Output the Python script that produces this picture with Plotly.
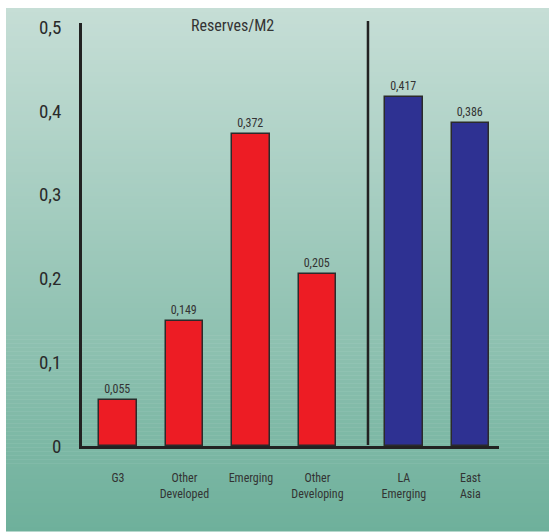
import plotly.graph_objects as go

# Reserves relative to broad money (M2), by country group
groups_a = ["G3", "Other<br>Developed", "Emerging", "Other<br>Developing"]
values_a = [0.055, 0.149, 0.372, 0.205]
groups_b = ["LA<br>Emerging", "East<br>Asia"]
values_b = [0.417, 0.386]
y_ticks = [0, 0.1, 0.2, 0.3, 0.4, 0.5]
y_tick_labels = ["0", "0,1", "0,2", "0,3", "0,4", "0,5"]
title_text = "Reserves/M2"

W, H = 550, 532
L, R, T, B = 82, 51, 23, 86
FONT = "Roboto Condensed, Liberation Sans Narrow, DejaVu Sans Condensed, sans-serif"

# category positions, second group set apart by a gap
gap = 1.3
pos_a = list(range(len(groups_a)))
pos_b = [pos_a[-1] + gap + i for i in range(len(groups_b))]
divider_x = pos_b[0] - 0.54

fig = go.Figure()
fig.add_trace(go.Bar(
    x=pos_a, y=values_a, width=0.56,
    marker=dict(color="#ed1c24", line=dict(color="#2b2b2b", width=1.5)),
    texttemplate="%{y:.3f}", textposition="outside",
    textfont=dict(size=12, color="#333333", family=FONT),
    cliponaxis=False,
))
fig.add_trace(go.Bar(
    x=pos_b, y=values_b, width=0.56,
    marker=dict(color="#2e3192", line=dict(color="#2b2b2b", width=1.5)),
    texttemplate="%{y:.3f}", textposition="outside",
    textfont=dict(size=12, color="#333333", family=FONT),
    cliponaxis=False,
))

# vertical green gradient panel behind the chart
pw, ph = W - L - R, H - T - B
def px_x(p):
    return (p - L) / pw
def px_y(p):
    return (H - B - p) / ph

top_c = (198, 222, 214)
bot_c = (110, 176, 155)
y_top, y_bot = 8, 531
n = 131
shapes = []
for i in range(n):
    a = y_top + (y_bot - y_top) * i / n
    b = y_top + (y_bot - y_top) * (i + 1) / n
    t = (i + 0.5) / n
    c = tuple(round(top_c[k] + (bot_c[k] - top_c[k]) * t) for k in range(3))
    shapes.append(dict(
        type="rect", xref="paper", yref="paper", layer="below",
        x0=px_x(6), x1=px_x(549), y0=px_y(b + 0.5), y1=px_y(a),
        fillcolor="rgb(%d,%d,%d)" % c, line=dict(width=0),
    ))

# divider between the two groups
shapes.append(dict(
    type="line", xref="x", yref="paper",
    x0=divider_x, x1=divider_x, y0=px_y(445), y1=px_y(21),
    line=dict(color="#222222", width=2.5),
))

fig.update_layout(
    width=W, height=H,
    margin=dict(l=L, r=R, t=T, b=B),
    paper_bgcolor="white",
    plot_bgcolor="rgba(0,0,0,0)",
    showlegend=False,
    separators=",.",
    shapes=shapes,
    bargap=0,
    annotations=[dict(
        text=title_text, xref="paper", yref="paper",
        x=px_x(232), y=px_y(25), xanchor="center", yanchor="middle",
        showarrow=False, font=dict(size=16, color="#333333", family=FONT),
    )],
)
fig.update_xaxes(
    range=[-0.54, 5.73],
    tickvals=pos_a + pos_b, ticktext=groups_a + groups_b,
    tickfont=dict(size=12, color="#333333", family=FONT),
    showline=True, linecolor="#222222", linewidth=2.5,
    showgrid=False, zeroline=False, ticks="", ticklabelstandoff=19,
)
fig.update_yaxes(
    range=[0, 0.505],
    tickvals=y_ticks, ticktext=y_tick_labels,
    tickfont=dict(size=19, color="#2a2a2a", family=FONT),
    showline=True, linecolor="#222222", linewidth=2.5,
    showgrid=False, zeroline=False, ticks="", ticklabelstandoff=14,
)

fig.write_html("out.html")
